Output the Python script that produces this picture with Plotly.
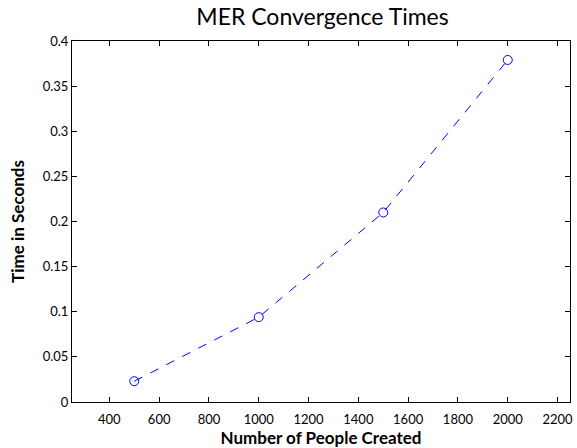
import plotly.graph_objects as go

# Convergence timing results
people_created = [500, 1000, 1500, 2000]
time_seconds = [0.023, 0.094, 0.210, 0.379]

x_ticks = [400, 600, 800, 1000, 1200, 1400, 1600, 1800, 2000, 2200]
y_ticks = [0, 0.05, 0.1, 0.15, 0.2, 0.25, 0.3, 0.35, 0.4]
y_tick_text = ["0", "0.05", "0.1", "0.15", "0.2", "0.25", "0.3", "0.35", "0.4"]

FONT = "Lato, DejaVu Sans, sans-serif"

fig = go.Figure()
fig.add_trace(go.Scatter(
    x=people_created,
    y=time_seconds,
    mode="lines+markers",
    line=dict(color="#0000ff", width=1, dash="dash"),
    marker=dict(symbol="circle-open", size=9, color="#0000ff", line=dict(width=1)),
    showlegend=False,
))

axis_common = dict(
    showgrid=False,
    zeroline=False,
    showline=True,
    linecolor="black",
    linewidth=1,
    mirror="ticks",
    ticks="inside",
    ticklen=5,
    tickcolor="black",
    tickfont=dict(family=FONT, size=13, color="black"),
)

fig.update_xaxes(
    range=[250, 2250],
    tickvals=x_ticks,
    ticktext=[str(v) for v in x_ticks],
    ticklabelstandoff=5,
    title=dict(text="<b>Number of People Created</b>", font=dict(family=FONT, size=17, color="black"), standoff=1),
    **axis_common,
)
fig.update_yaxes(
    range=[0, 0.4],
    tickvals=y_ticks,
    ticktext=y_tick_text,
    title=dict(text="<b>Time in Seconds</b>", font=dict(family=FONT, size=17, color="black"), standoff=13),
    **axis_common,
)

fig.update_layout(
    width=577,
    height=448,
    margin=dict(l=72, r=4, t=41, b=46),
    paper_bgcolor="white",
    plot_bgcolor="white",
    title=dict(
        text="MER Convergence Times",
        font=dict(family=FONT, size=23, color="black"),
        x=(72 + 573) / 2 / 577,
        xanchor="center",
        y=1 - 17 / 448,
        yanchor="middle",
    ),
)

fig.write_html("out.html")
